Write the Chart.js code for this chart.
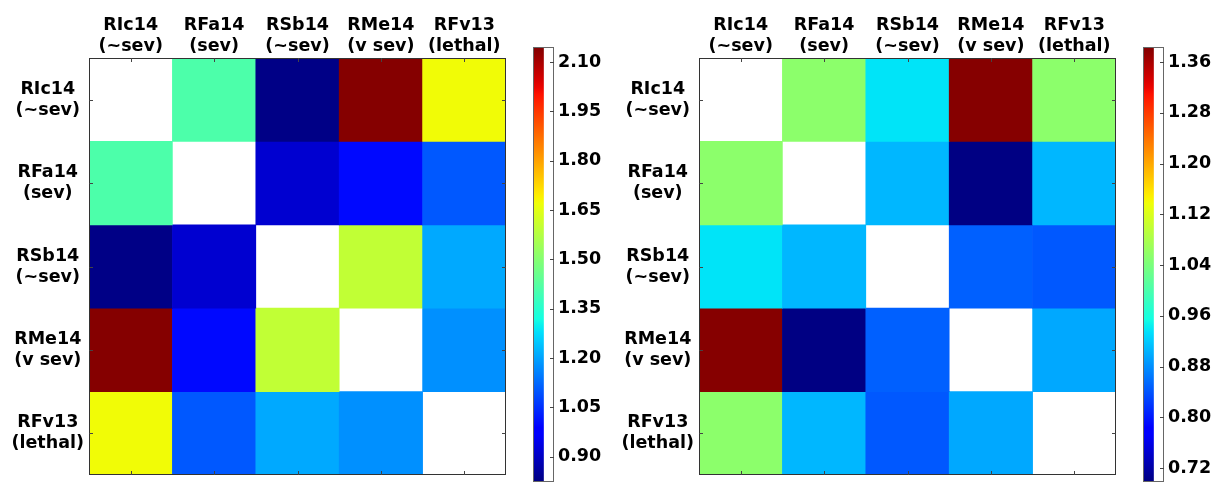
<!DOCTYPE html>
<html>
<head>
<meta charset="utf-8">
<script src="https://cdn.jsdelivr.net/npm/chart.js@4.4.1/dist/chart.umd.min.js"></script>
<style>
  body { margin: 0; background: #fff; }
  #wrap { position: relative; width: 1222px; height: 482px; overflow: hidden; }
  canvas { position: absolute; top: 0; }
</style>
</head>
<body>
<div id="wrap">
  <canvas id="heatL" width="520" height="482" style="left:0px"></canvas>
  <canvas id="barL" width="90" height="482" style="left:520px"></canvas>
  <canvas id="heatR" width="520" height="482" style="left:610px"></canvas>
  <canvas id="barR" width="92" height="482" style="left:1130px"></canvas>
</div>
<script>
"use strict";

// strains, same order on both axes
const strains = [
  ["RIc14", "(~sev)"],
  ["RFa14", "(sev)"],
  ["RSb14", "(~sev)"],
  ["RMe14", "(v sev)"],
  ["RFv13", "(lethal)"],
];

// left matrix (diagonal empty)
const leftVals = [
  [null, 1.409, 0.83, 2.14, 1.674],
  [1.409, null, 0.915, 0.999, 1.102],
  [0.83, 0.915, null, 1.597, 1.207],
  [2.14, 0.999, 1.597, null, 1.175],
  [1.674, 1.102, 1.207, 1.175, null],
];
const leftRange = [0.823, 2.146];
const leftTicks = [0.9, 1.05, 1.2, 1.35, 1.5, 1.65, 1.8, 1.95, 2.1];

// right matrix
const rightVals = [
  [null, 1.055, 0.937, 1.38, 1.055],
  [1.055, null, 0.907, 0.70, 0.907],
  [0.937, 0.907, null, 0.848, 0.843],
  [1.38, 0.70, 0.848, null, 0.897],
  [1.055, 0.907, 0.843, 0.897, null],
];
const rightRange = [0.698, 1.384];
const rightTicks = [0.72, 0.8, 0.88, 0.96, 1.04, 1.12, 1.2, 1.28, 1.36];

const FONT = { family: "'DejaVu Sans', sans-serif", size: 17.5, weight: "bold", lineHeight: 1.2 };

// matplotlib jet segment data
const jetSeg = {
  r: [[0, 0], [0.35, 0], [0.66, 1], [0.89, 1], [1, 0.5]],
  g: [[0, 0], [0.125, 0], [0.375, 1], [0.64, 1], [0.91, 0], [1, 0]],
  b: [[0, 0.5], [0.11, 1], [0.34, 1], [0.65, 0], [1, 0]],
};
function seg(pts, t) {
  for (let i = 1; i < pts.length; i++) {
    if (t <= pts[i][0]) {
      const [x0, y0] = pts[i - 1], [x1, y1] = pts[i];
      return y0 + (y1 - y0) * (t - x0) / (x1 - x0);
    }
  }
  return pts[pts.length - 1][1];
}
function jet(t) {
  t = Math.max(0, Math.min(1, t));
  const r = Math.round(seg(jetSeg.r, t) * 255);
  const g = Math.round(seg(jetSeg.g, t) * 255);
  const b = Math.round(seg(jetSeg.b, t) * 255);
  return `rgb(${r},${g},${b})`;
}

// frame + inward tick marks like matplotlib
const frameTicks = {
  id: "frameTicks",
  afterDraw(chart, args, opts) {
    const c = chart.ctx, a = chart.chartArea;
    c.save();
    c.strokeStyle = opts.frame || "#333";
    c.lineWidth = 1;
    c.strokeRect(Math.round(a.left) + 0.5, Math.round(a.top) + 0.5, Math.round(a.right - a.left) - 1, Math.round(a.bottom - a.top) - 1);
    c.strokeStyle = "#444";
    const len = 4;
    if (opts.xTicks) {
      const xs = chart.scales.x;
      chart.data.labels.forEach((l, i) => {
        const px = Math.round(xs.getPixelForTick(i)) + 0.5;
        c.beginPath();
        c.moveTo(px, a.top); c.lineTo(px, a.top + len);
        c.moveTo(px, a.bottom); c.lineTo(px, a.bottom - len);
        c.stroke();
      });
    }
    const ys = chart.scales.y;
    ys.ticks.forEach((t) => {
      const py = Math.round(ys.getPixelForValue(t.value)) + 0.5;
      c.beginPath();
      if (opts.xTicks) { c.moveTo(a.left, py); c.lineTo(a.left + len, py); }
      c.moveTo(a.right, py); c.lineTo(a.right - len, py);
      c.stroke();
    });
    c.restore();
  },
};

function noPad(s) {
  s.paddingTop = 0; s.paddingBottom = 0; s.paddingLeft = 0; s.paddingRight = 0;
}

function heatmap(id, vals, range) {
  const datasets = vals.map((row, r) => ({
    data: row.map((v) => (v == null ? null : [r, r + 1])),
    backgroundColor: row.map((v) => (v == null ? "#fff" : jet((v - range[0]) / (range[1] - range[0])))),
    borderWidth: 0,
    barPercentage: 1,
    categoryPercentage: 1,
    grouped: false,
  }));
  new Chart(document.getElementById(id), {
    type: "bar",
    data: { labels: strains, datasets: datasets },
    options: {
      responsive: false,
      animation: false,
      layout: { padding: { left: 0, top: 0, right: 14, bottom: 7 } },
      plugins: { legend: { display: false }, tooltip: { enabled: false }, frameTicks: { xTicks: true } },
      scales: {
        x: {
          type: "category",
          position: "top",
          grid: { display: false, drawTicks: false },
          border: { display: false },
          ticks: { font: FONT, color: "#000", maxRotation: 0, autoSkip: false, padding: 1 },
          afterFit: (s) => { s.height = 58; noPad(s); },
        },
        y: {
          type: "linear",
          min: 0,
          max: 5,
          reverse: true,
          grid: { display: false, drawTicks: false },
          border: { display: false },
          afterBuildTicks: (s) => { s.ticks = [0.5, 1.5, 2.5, 3.5, 4.5].map((v) => ({ value: v })); },
          ticks: {
            font: FONT, color: "#000", autoSkip: false, crossAlign: "center", padding: 5,
            callback: (v) => strains[Math.floor(v)],
          },
          afterFit: (s) => { s.width = 89; noPad(s); },
        },
      },
    },
    plugins: [frameTicks],
  });
}

function colorbar(id, range, ticks, axisW) {
  new Chart(document.getElementById(id), {
    type: "bar",
    data: {
      labels: [""],
      datasets: [{
        data: [range],
        borderWidth: 0,
        barPercentage: 1,
        categoryPercentage: 1,
        backgroundColor: (ctx) => {
          const a = ctx.chart.chartArea;
          if (!a) return "#fff";
          const g = ctx.chart.ctx.createLinearGradient(0, a.bottom, 0, a.top);
          for (let i = 0; i <= 64; i++) g.addColorStop(i / 64, jet(i / 64));
          return g;
        },
      }],
    },
    options: {
      responsive: false,
      animation: false,
      layout: { padding: { left: 13, top: 47, right: 0, bottom: 0 } },
      plugins: { legend: { display: false }, tooltip: { enabled: false }, frameTicks: { xTicks: false, frame: "#666" } },
      scales: {
        x: { display: false, offset: false },
        y: {
          type: "linear",
          position: "right",
          min: range[0],
          max: range[1],
          grid: { display: false, drawTicks: false },
          border: { display: false },
          afterBuildTicks: (s) => { s.ticks = ticks.map((v) => ({ value: v })); },
          ticks: { font: FONT, color: "#000", padding: 4, callback: (v) => v.toFixed(2) },
          afterFit: (s) => { s.width = axisW; noPad(s); },
        },
      },
    },
    plugins: [frameTicks],
  });
}

heatmap("heatL", leftVals, leftRange);
colorbar("barL", leftRange, leftTicks, 56);
heatmap("heatR", rightVals, rightRange);
colorbar("barR", rightRange, rightTicks, 58);
</script>
</body>
</html>
